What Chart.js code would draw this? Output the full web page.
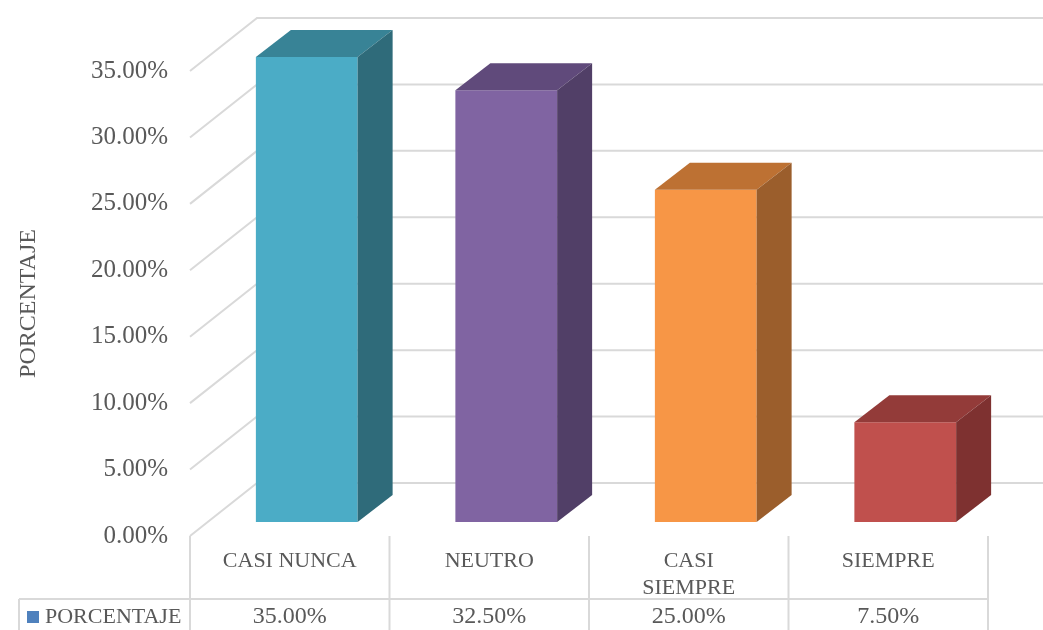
<!DOCTYPE html>
<html>
<head>
<meta charset="utf-8">
<script src="https://cdn.jsdelivr.net/npm/chart.js@4"></script>
<style>
    body { margin: 0; background: #ffffff; }
    #contenedor { width: 1043px; height: 630px; }
</style>
</head>
<body>
<div id="contenedor"><canvas id="graficoPorcentaje"></canvas></div>
<script>
var categorias = ['CASI NUNCA', 'NEUTRO', 'CASI SIEMPRE', 'SIEMPRE'];
var etiquetasEje = ['CASI NUNCA', 'NEUTRO', ['CASI', 'SIEMPRE'], 'SIEMPRE'];
var porcentajes = [0.35, 0.325, 0.25, 0.075];
var etiquetasY = ['0.00%', '5.00%', '10.00%', '15.00%', '20.00%', '25.00%', '30.00%', '35.00%'];
var nombreSerie = 'PORCENTAJE';

var coloresFrente = ['#4BACC6', '#8064A2', '#F79646', '#C0504D'];
var coloresArriba = ['#388396', '#604A7B', '#BD7133', '#933B39'];
var coloresLado = ['#2F6B7A', '#513F67', '#9B5E2C', '#7E3130'];

var FUENTE = '"Liberation Serif", "DejaVu Serif", serif';
var GRIS_TEXTO = '#595959';
var GRIS_LINEA = '#D9D9D9';

// profundidad de la pared y de las barras
var PARED_DX = 67, PARED_DY = -53;
var BARRA_DX0 = 17, BARRA_DY0 = -14;
var BARRA_DX = 35, BARRA_DY = -27;

var TABLA_FILA_Y = 599;

var pared3D = {
    id: 'pared3D',
    beforeDatasetsDraw: function (chart) {
        var ctx = chart.ctx;
        var yScale = chart.scales.y;
        var area = chart.chartArea;
        ctx.save();
        ctx.strokeStyle = GRIS_LINEA;
        ctx.lineWidth = 2;
        yScale.ticks.forEach(function (tick) {
            var y = yScale.getPixelForValue(tick.value);
            ctx.beginPath();
            ctx.moveTo(area.left, y);
            ctx.lineTo(area.left + PARED_DX, y + PARED_DY);
            ctx.lineTo(area.right + PARED_DX, y + PARED_DY);
            ctx.stroke();
        });
        ctx.restore();
        // las caras frontales las dibuja la libreria, desplazadas en profundidad
        ctx.save();
        ctx.translate(BARRA_DX0, BARRA_DY0);
    },
    afterDatasetsDraw: function (chart) {
        var ctx = chart.ctx;
        ctx.restore();
        var meta = chart.getDatasetMeta(0);
        meta.data.forEach(function (barra, i) {
            var izq = barra.x - barra.width / 2 + BARRA_DX0;
            var der = barra.x + barra.width / 2 + BARRA_DX0;
            var arriba = barra.y + BARRA_DY0;
            var base = barra.base + BARRA_DY0;
            ctx.save();
            ctx.fillStyle = coloresArriba[i];
            ctx.beginPath();
            ctx.moveTo(izq, arriba);
            ctx.lineTo(der, arriba);
            ctx.lineTo(der + BARRA_DX, arriba + BARRA_DY);
            ctx.lineTo(izq + BARRA_DX, arriba + BARRA_DY);
            ctx.closePath();
            ctx.fill();
            ctx.fillStyle = coloresLado[i];
            ctx.beginPath();
            ctx.moveTo(der, arriba);
            ctx.lineTo(der + BARRA_DX, arriba + BARRA_DY);
            ctx.lineTo(der + BARRA_DX, base + BARRA_DY);
            ctx.lineTo(der, base);
            ctx.closePath();
            ctx.fill();
            ctx.restore();
        });
    }
};

var tablaDatos = {
    id: 'tablaDatos',
    afterDraw: function (chart) {
        var ctx = chart.ctx;
        var xScale = chart.scales.x;
        var area = chart.chartArea;
        var alto = chart.height;
        var ancho = (area.right - area.left) / categorias.length;
        ctx.save();
        ctx.strokeStyle = GRIS_LINEA;
        ctx.lineWidth = 2;
        for (var i = 0; i <= categorias.length; i++) {
            var x = area.left + i * ancho;
            ctx.beginPath();
            ctx.moveTo(x, area.bottom);
            ctx.lineTo(x, alto);
            ctx.stroke();
        }
        ctx.beginPath();
        ctx.moveTo(19, TABLA_FILA_Y);
        ctx.lineTo(area.right, TABLA_FILA_Y);
        ctx.moveTo(19, TABLA_FILA_Y);
        ctx.lineTo(19, alto);
        ctx.stroke();

        ctx.fillStyle = '#4F81BD';
        ctx.fillRect(27, 611, 12, 12);

        ctx.fillStyle = GRIS_TEXTO;
        ctx.font = '22px ' + FUENTE;
        ctx.textBaseline = 'middle';
        ctx.textAlign = 'left';
        ctx.fillText(nombreSerie, 45, 617);
        ctx.font = '24px ' + FUENTE;
        ctx.textAlign = 'center';
        porcentajes.forEach(function (v, i) {
            ctx.fillText((v * 100).toFixed(2) + '%', xScale.getPixelForValue(i), 617);
        });
        ctx.restore();
    }
};

new Chart(document.getElementById('graficoPorcentaje'), {
    type: 'bar',
    data: {
        labels: etiquetasEje,
        datasets: [{
            label: nombreSerie,
            data: porcentajes,
            backgroundColor: coloresFrente,
            borderWidth: 0,
            categoryPercentage: 1,
            barPercentage: 0.51,
            clip: false
        }]
    },
    options: {
        responsive: true,
        maintainAspectRatio: false,
        animation: false,
        layout: { padding: { left: 0, top: 71, right: 55, bottom: 0 } },
        plugins: {
            legend: { display: false },
            tooltip: { enabled: false }
        },
        scales: {
            x: {
                grid: { display: false, drawTicks: false },
                border: { display: false },
                ticks: {
                    color: GRIS_TEXTO,
                    font: { family: FUENTE, size: 22, lineHeight: 1.25 },
                    padding: 11,
                    maxRotation: 0,
                    autoSkip: false
                },
                afterFit: function (scale) { scale.height = 94; }
            },
            y: {
                min: 0,
                max: 0.35,
                grid: { display: false, drawTicks: false },
                border: { display: false },
                ticks: {
                    stepSize: 0.05,
                    color: GRIS_TEXTO,
                    font: { family: FUENTE, size: 25 },
                    padding: 22,
                    callback: function (valor, indice) { return etiquetasY[indice]; }
                },
                title: {
                    display: true,
                    text: 'PORCENTAJE',
                    color: GRIS_TEXTO,
                    font: { family: FUENTE, size: 24 },
                    padding: { top: 14, bottom: 4 }
                },
                afterFit: function (scale) { scale.width = 190; }
            }
        }
    },
    plugins: [pared3D, tablaDatos]
});
</script>
</body>
</html>
